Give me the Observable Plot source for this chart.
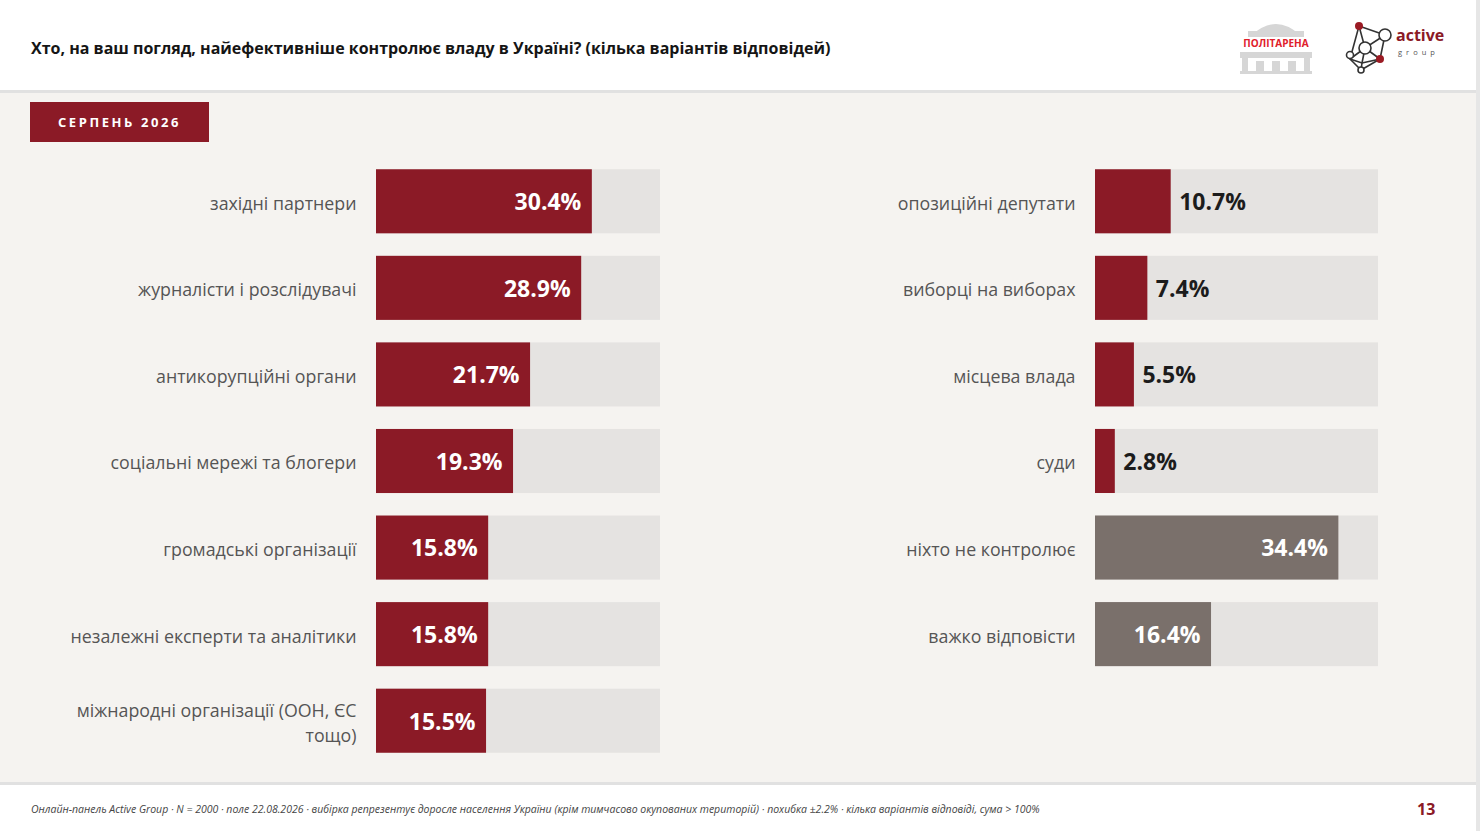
<!DOCTYPE html>
<html lang="uk">
<head>
<meta charset="utf-8">
<script src="https://cdn.jsdelivr.net/npm/d3@7"></script>
<script src="https://cdn.jsdelivr.net/npm/@observablehq/plot@0.6"></script>
<style>
  html, body { margin: 0; padding: 0; }
  body { width: 1480px; height: 831px; background: #f5f3f0; position: relative; overflow: hidden; font-family: "Open Sans", sans-serif; }
  #header { position: absolute; left: 0; top: 0; width: 1476px; height: 90px; background: #fff; border-bottom: 3px solid #e1e1e1; }
  #title { position: absolute; left: 31px; top: 37px; font-size: 16px; font-weight: 700; color: #151515; white-space: nowrap; }
  #badge { position: absolute; left: 30px; top: 102px; width: 179px; height: 40px; background: #8b1a26; color: #fff; font-size: 13px; font-weight: 700; letter-spacing: 2.6px; display: flex; align-items: center; justify-content: center; }
  #footer { position: absolute; left: 0; top: 782px; width: 1476px; height: 49px; background: #fff; border-top: 3px solid #e1e1e1; }
  #note { position: absolute; left: 31px; top: 17px; font-size: 10.5px; font-style: italic; color: #444; white-space: nowrap; }
  #page { position: absolute; left: 1417px; top: 13px; font-size: 16px; font-weight: 700; color: #8b1a26; }
  #rightEdge { position: absolute; left: 1476px; top: 0; width: 4px; height: 831px; background: #e6e6e6; }
  #left { position: absolute; left: 0; top: 158px; }
  #right { position: absolute; left: 720px; top: 158px; }
  #logos { position: absolute; left: 1230px; top: 15px; }
</style>
</head>
<body>
<div id="header">
  <div id="title">Хто, на ваш погляд, найефективніше контролює владу в Україні? (кілька варіантів відповідей)</div>
  <svg id="logos" width="230" height="65" viewBox="0 0 230 65">
    <g fill="#d6d6d6">
      <path d="M22 20 Q46 -2 70 20 Z"/>
      <rect x="18" y="16" width="56" height="6"/>
      <rect x="10" y="37" width="72" height="6"/>
      <rect x="12" y="43" width="6" height="15"/>
      <rect x="26" y="46" width="8" height="12"/>
      <rect x="42" y="46" width="8" height="12"/>
      <rect x="58" y="46" width="8" height="12"/>
      <rect x="74" y="43" width="6" height="15"/>
      <rect x="10" y="56" width="72" height="3"/>
    </g>
    <text x="46" y="32" text-anchor="middle" font-family="Open Sans" font-weight="700" font-size="10" fill="#e0202a">ПОЛІТАРЕНА</text>
    <g stroke="#333" stroke-width="1.6" fill="none">
      <path d="M129 11 L155 20 L150 44 L132 48 L120 44 L129 11 Z"/>
      <path d="M129 11 L135 33 L155 20 M135 33 L150 44 M135 33 L132 48 M135 33 L120 44 M132 48 L131 55 M150 44 L131 55 M120 44 L131 55"/>
      <circle cx="155" cy="20" r="6" fill="#fff"/>
      <circle cx="135" cy="33" r="6" fill="#fff"/>
      <circle cx="120" cy="40" r="3.5" fill="#fff"/>
      <circle cx="131" cy="55" r="3" fill="#fff"/>
    </g>
    <circle cx="129" cy="11" r="4" fill="#9b1b24"/>
    <circle cx="150" cy="44" r="4" fill="#9b1b24"/>
    <text x="166" y="26" font-family="Open Sans" font-weight="700" font-size="16" fill="#8b1a26">active</text>
    <text x="168" y="40" font-family="Open Sans" font-size="7.5" fill="#555" letter-spacing="4">group</text>
  </svg>
</div>
<div id="badge">СЕРПЕНЬ 2026</div>
<div id="left"></div>
<div id="right"></div>
<div id="footer">
  <div id="note">Онлайн-панель Active Group · N = 2000 · поле 22.08.2026 · вибірка репрезентує доросле населення України (крім тимчасово окупованих територій) · похибка ±2.2% · кілька варіантів відповіді, сума &gt; 100%</div>
  <div id="page">13</div>
</div>
<div id="rightEdge"></div>
<script>
// ---- data ----
const leftCategories = [
  "західні партнери",
  "журналісти і розслідувачі",
  "антикорупційні органи",
  "соціальні мережі та блогери",
  "громадські організації",
  "незалежні експерти та аналітики",
  "міжнародні організації (ООН, ЄС\nтощо)"
];
const leftValues = [30.4, 28.9, 21.7, 19.3, 15.8, 15.8, 15.5];

const rightCategories = [
  "опозиційні депутати",
  "виборці на виборах",
  "місцева влада",
  "суди",
  "ніхто не контролює",
  "важко відповісти"
];
const rightValues = [10.7, 7.4, 5.5, 2.8, 34.4, 16.4];
const rightGroups = ["actor", "actor", "actor", "actor", "none", "none"];

const scaleMax = 40;
const insideThreshold = 15;

const RED = "#8b1a26";
const GREY = "#7a706b";
const TRACK = "#e5e3e1";

function panel(categories, values, groups, opts) {
  const data = categories.map((c, i) => ({cat: c, value: values[i], group: groups ? groups[i] : "actor"}));
  return Plot.plot({
    width: opts.width,
    height: opts.height,
    marginLeft: opts.marginLeft,
    marginRight: opts.marginRight,
    marginTop: 0,
    marginBottom: 0,
    style: {fontFamily: "Open Sans", background: "transparent", color: "#555", overflow: "visible"},
    x: {domain: [0, scaleMax], axis: null},
    y: {domain: categories, paddingInner: 0.26, paddingOuter: 0.13, round: false, axis: null},
    color: {domain: ["actor", "none"], range: [RED, GREY]},
    marks: [
      Plot.barX(data, {x1: 0, x2: () => scaleMax, y: "cat", fill: TRACK}),
      Plot.barX(data, {x: "value", y: "cat", fill: "group"}),
      Plot.text(data.filter(d => d.value >= insideThreshold), {
        x: "value", y: "cat", text: d => d.value.toFixed(1) + "%",
        textAnchor: "end", dx: -11, dy: 1, fill: "#fff", fontWeight: 700, fontSize: 23
      }),
      Plot.text(data.filter(d => d.value < insideThreshold), {
        x: "value", y: "cat", text: d => d.value.toFixed(1) + "%",
        textAnchor: "start", dx: 8, dy: 1, fill: "#1c1c1c", fontWeight: 700, fontSize: 23
      }),
      Plot.text(data, {
        x: 0, y: "cat", text: "cat", textAnchor: "end", dx: -20,
        fontSize: 17.8, fill: "#555", lineHeight: 1.4
      })
    ]
  });
}

document.getElementById("left").append(
  panel(leftCategories, leftValues, null, {width: 700, height: 606, marginLeft: 376, marginRight: 40})
);
document.getElementById("right").append(
  panel(rightCategories, rightValues, rightGroups, {width: 700, height: 519.4, marginLeft: 375, marginRight: 42})
);
</script>
</body>
</html>
